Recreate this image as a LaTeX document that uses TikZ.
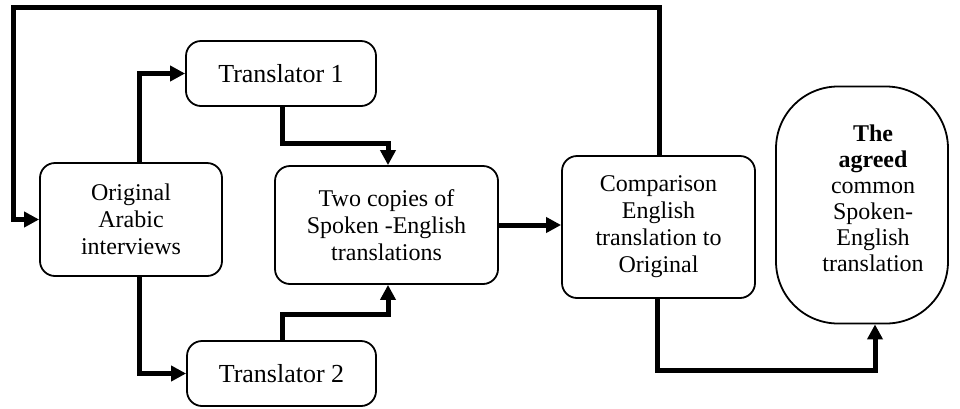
\documentclass[tikz,border=0pt]{standalone}
\usepackage{fontspec}
\setmainfont{Liberation Serif}
\usetikzlibrary{arrows.meta}
\begin{document}
\begin{tikzpicture}[x=1pt,y=-1pt,
  box/.style={draw, line width=1.8pt, rounded corners=15pt, align=center,
    inner sep=0pt, font=\fontsize{24}{27}\selectfont},
  flow/.style={line width=5pt, -{Triangle[length=15pt,width=15pt]}}]
\useasboundingbox (0,0) rectangle (960,408);

% process boxes
\node[box, minimum width=182pt, minimum height=113pt] (orig) at (131,219.5)
  {Original\\Arabic\\interviews};
\node[box, minimum width=190pt, minimum height=65pt,
  font=\fontsize{26}{28}\selectfont] (t1) at (281,73.5)
  {Translator 1};
\node[box, minimum width=189pt, minimum height=65pt,
  font=\fontsize{26}{28}\selectfont] (t2) at (281.5,373.5)
  {Translator 2};
\node[box, minimum width=223pt, minimum height=118pt] (two) at (386.5,225)
  {Two copies of\\Spoken -English\\translations};
\node[box, minimum width=193pt, minimum height=142pt] (comp) at (658.5,227)
  {Comparison\\English\\translation to\\Original};

% final result: rounded outline with its text set slightly off-centre
\node[box, rounded corners=62pt, minimum width=172pt, minimum height=237pt]
  (agreed) at (862,205) {};
\node[align=center, inner sep=0pt, font=\fontsize{24}{26}\selectfont]
  (agreedtext) at (873,198)
  {{\bfseries The}\\
   {\bfseries agreed}\\
   common\\Spoken-\\English\\translation};

% routing points
\coordinate (ax) at (139,0);
\coordinate (bx) at (282,0);
\coordinate (k1) at (388,143);
\coordinate (k2) at (388,314);
\coordinate (loopTR) at (659,7);
\coordinate (loopTL) at (13,7);
\coordinate (lowL) at (657,0);
\coordinate (lowR) at (875,370);

% connectors
\draw[flow] (orig.north -| ax) |- (t1.west);
\draw[flow] (orig.south -| ax) |- (t2.west);
\draw[flow] (t1.south -| bx) |- (k1) -- (two.north -| k1);
\draw[flow] (t2.north -| bx) |- (k2) -- (two.south -| k2);
\draw[flow] (two.east) -- (comp.west |- two.east);
\draw[flow] (comp.north -| loopTR) -- (loopTR) -- (loopTL) |- (orig.west);
\draw[flow] (comp.south -| lowL) |- (lowR) -- (agreed.south -| lowR);
\end{tikzpicture}
\end{document}
